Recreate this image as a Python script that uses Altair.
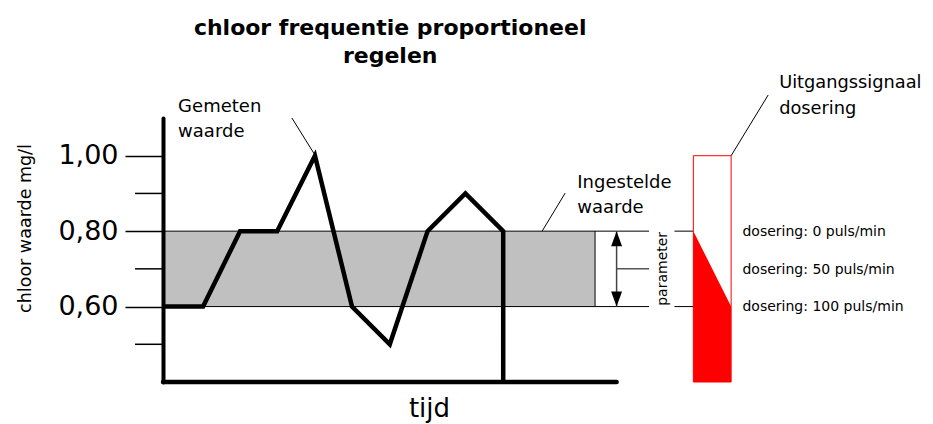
import altair as alt
import pandas as pd

# ---- data ----
# measured chlorine value over time
t_vals = [0, 1.06, 2.04, 3.02, 4.02, 5.0, 6.0, 7.0, 8.0, 9.0, 9.0]
chloor = [0.60, 0.60, 0.80, 0.80, 1.00, 0.60, 0.50, 0.80, 0.90, 0.80, 0.40]

# set-point band
band_low = 0.60
band_high = 0.80
band_end = 11.43
band_line_end = 12.86
x_axis_end = 12.0
arrow_x = 12.0
param_mid = 0.70

# dosing output column
dose_left = 14.03
dose_right = 15.03
dose_tick_left = 13.53
dose_top = 1.00
dose_y = [0.80, 0.60]
dose_labels = ["dosering: 0 puls/min", "dosering: 50 puls/min", "dosering: 100 puls/min"]
dose_label_y = [0.787, 0.686, 0.588]
dose_label_x = 15.33

y_major = [0.60, 0.80, 1.00]
y_minor = [0.50, 0.70, 0.90]
y_min, y_max = 0.40, 1.10
x_min, x_max = 0, 20

title_lines = ["chloor frequentie proportioneel", "regelen"]
title_x = 6.01
title_y = [1.320, 1.246]

ann_text = ["Gemeten", "waarde", "Ingestelde", "waarde"]
ann_x = [0.40, 0.40, 10.96, 10.96]
ann_y = [1.116, 1.050, 0.914, 0.848]

out_text = ["Uitgangssignaal", "dosering"]
out_x = [16.30, 16.30]
out_y = [1.180, 1.111]

leader_x = [3.41, 10.64, 16.01]
leader_y = [1.10, 0.901, 1.161]
leader_x2 = [4.00, 10.03, 15.03]
leader_y2 = [1.005, 0.80, 1.00]

FONT = "DejaVu Sans"

xs = alt.Scale(domain=[x_min, x_max], nice=False, zero=False)
ys = alt.Scale(domain=[y_min, y_max], nice=False, zero=False)

x_axis = alt.Axis(domain=False, ticks=False, labels=False, grid=False,
                  title="tijd", titleFont=FONT, titleFontSize=26, titleFontWeight="normal",
                  titleColor="black", titleX=266, titleY=34, titleBaseline="alphabetic",
                  titleAlign="center")
y_axis = alt.Axis(values=y_major,
                  labelExpr="replace(format(datum.value, '.2f'), '.', ',')",
                  tickSize=38, tickWidth=1.5, tickColor="black",
                  labelFont=FONT, labelFontSize=27, labelColor="black", labelPadding=7,
                  domainWidth=4, domainColor="black", domainCap="round", grid=False,
                  title="chloor waarde mg/l", titleFont=FONT, titleFontSize=17.5,
                  titleFontWeight="normal", titleColor="black", titleAngle=270,
                  titleX=-138, titleY=110, titleBaseline="middle", titleAlign="center",
                  zindex=1)

X = alt.X("x:Q", scale=xs, axis=x_axis)
Y = alt.Y("y:Q", scale=ys, axis=y_axis)
X2 = alt.X2("x2:Q")
Y2 = alt.Y2("y2:Q")

# band rect
band_df = pd.DataFrame({"x": [0], "x2": [band_end], "y": [band_low], "y2": [band_high]})
band = alt.Chart(band_df).mark_rect(color="#c0c0c0").encode(x=X, x2=X2, y=Y, y2=Y2)

# thin black rules
rx, rx2, ry, ry2 = [], [], [], []
for v in [band_high, band_low]:
    rx.append(0); rx2.append(band_line_end); ry.append(v); ry2.append(v)
rx.append(band_end); rx2.append(band_end); ry.append(band_low); ry2.append(band_high)
rx.append(arrow_x); rx2.append(band_line_end); ry.append(param_mid); ry2.append(param_mid)
for v in dose_y:
    rx.append(dose_tick_left); rx2.append(dose_left); ry.append(v); ry2.append(v)
for a, b, c, d in zip(leader_x, leader_y, leader_x2, leader_y2):
    rx.append(a); ry.append(b); rx2.append(c); ry2.append(d)
rules_df = pd.DataFrame({"x": rx, "x2": rx2, "y": ry, "y2": ry2})
rules = alt.Chart(rules_df).mark_rule(color="black", strokeWidth=1).encode(x=X, x2=X2, y=Y, y2=Y2)

# minor y ticks
minor_df = pd.DataFrame({"x": [-0.74] * 3, "x2": [0] * 3, "y": y_minor, "y2": y_minor})
minor = alt.Chart(minor_df).mark_rule(color="black", strokeWidth=1.5).encode(x=X, x2=X2, y=Y, y2=Y2)

# arrow
arrow_df = pd.DataFrame({"x": [arrow_x], "x2": [arrow_x], "y": [band_low], "y2": [band_high]})
arrow = alt.Chart(arrow_df).mark_rule(color="#444444", strokeWidth=1.5).encode(x=X, x2=X2, y=Y, y2=Y2)
head_df = pd.DataFrame({"x": [arrow_x, arrow_x], "y": [band_high, band_low], "dir": ["up", "down"]})
heads = alt.Chart(head_df).mark_point(filled=True, color="black", size=225, opacity=1).encode(
    x=X, y=Y,
    shape=alt.Shape("dir:N", scale=alt.Scale(domain=["up", "down"],
                                              range=["M0,0L0.73,2L-0.73,2Z", "M0,0L0.73,-2L-0.73,-2Z"]),
                    legend=None))

# measured line
line_df = pd.DataFrame({"x": t_vals, "y": chloor, "i": list(range(len(t_vals)))})
line = alt.Chart(line_df).mark_line(color="black", strokeWidth=4.5, strokeJoin="miter").encode(
    x=X, y=Y, order="i:Q")

# x axis line
xaxis_df = pd.DataFrame({"x": [0], "x2": [x_axis_end], "y": [y_min], "y2": [y_min]})
xaxis_line = alt.Chart(xaxis_df).mark_rule(color="black", strokeWidth=4.5, strokeCap="round").encode(
    x=X, x2=X2, y=Y, y2=Y2)

# red dosing column
area_df = pd.DataFrame({"x": [dose_left, dose_right], "y": dose_y, "y2": [y_min, y_min]})
red_area = alt.Chart(area_df).mark_area(color="#ff0000", opacity=1).encode(x=X, y=Y, y2=Y2)
box_df = pd.DataFrame({"x": [dose_left], "x2": [dose_right], "y": [y_min], "y2": [dose_top]})
red_box = alt.Chart(box_df).mark_rect(fill="transparent", stroke="#ff0000", strokeWidth=1).encode(
    x=X, x2=X2, y=Y, y2=Y2)

# texts
title_df = pd.DataFrame({"x": [title_x] * 2, "y": title_y, "t": title_lines})
title = alt.Chart(title_df).mark_text(font=FONT, fontSize=22, fontWeight="bold", color="black",
                                      align="center", baseline="alphabetic").encode(x=X, y=Y, text="t:N")

ann_df = pd.DataFrame({"x": ann_x, "y": ann_y, "t": ann_text})
ann = alt.Chart(ann_df).mark_text(font=FONT, fontSize=18, color="black", align="left",
                                  baseline="alphabetic").encode(x=X, y=Y, text="t:N")

out_df = pd.DataFrame({"x": out_x, "y": out_y, "t": out_text})
out_txt = alt.Chart(out_df).mark_text(font=FONT, fontSize=17.8, color="black", align="left",
                                      baseline="alphabetic").encode(x=X, y=Y, text="t:N")

dose_df = pd.DataFrame({"x": [dose_label_x] * 3, "y": dose_label_y, "t": dose_labels})
dose_txt = alt.Chart(dose_df).mark_text(font=FONT, fontSize=14, color="black", align="left",
                                        baseline="alphabetic").encode(x=X, y=Y, text="t:N")

param_df = pd.DataFrame({"x": [13.23], "y": [param_mid], "t": ["parameter"]})
param_txt = alt.Chart(param_df).mark_text(font=FONT, fontSize=14, color="black", align="center",
                                          baseline="middle", angle=270).encode(x=X, y=Y, text="t:N")

chart = alt.layer(band, rules, minor, arrow, heads, line, xaxis_line, red_area, red_box,
                  title, ann, out_txt, dose_txt, param_txt).properties(
    width=756, height=264,
    autosize=alt.AutoSizeParams(type="none"),
    padding={"left": 155, "top": 110, "right": 6, "bottom": 42},
    background="white",
).configure_view(stroke="transparent")

chart.save("out.html", embed_options={"renderer": "svg", "actions": False})
